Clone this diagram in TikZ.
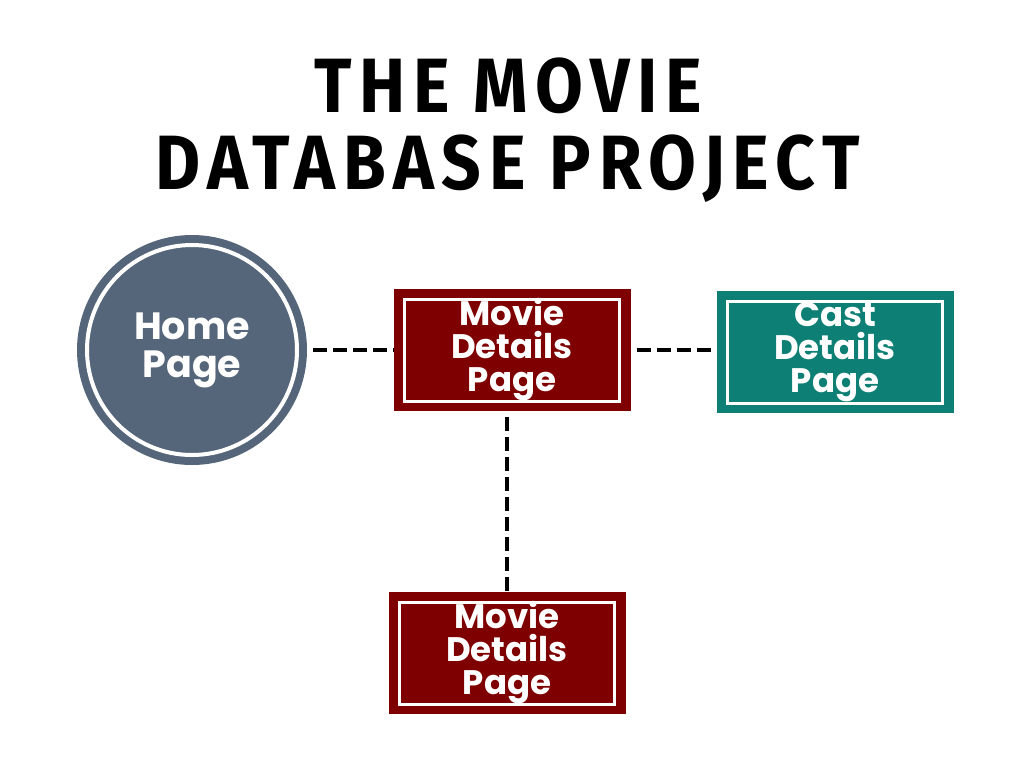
\documentclass[tikz,border=0pt]{standalone}
\usepackage{fontspec}
\setmainfont{Poppins}
\newfontfamily\titlefont[FakeStretch=0.9,LetterSpace=10]{Fira Sans Bold}
\usetikzlibrary{positioning}

\definecolor{slate}{HTML}{56667A}
\definecolor{maroon}{HTML}{7F0000}
\definecolor{teal}{HTML}{0E7F74}

\tikzset{
  pagebox/.style={draw=#1, fill=#1, line width=1pt, minimum width=236pt, minimum height=121pt,
    inner sep=0pt, align=center, text=white, font=\bfseries\fontsize{34}{33}\selectfont},
  homecircle/.style={circle, fill=slate, minimum size=230pt, inner sep=0pt, align=center,
    text=white, font=\bfseries\fontsize{38}{38}\selectfont},
  link/.style={line width=4pt, dash pattern=on 14pt off 6pt, dash phase=-6pt},
}

\begin{document}
\begin{tikzpicture}[x=1pt,y=-1pt]
  \useasboundingbox (0,0) rectangle (1024,768);

  % title
  \node [font=\titlefont\fontsize{77}{77}\selectfont, align=center] (title) at (508,130) {THE MOVIE\\DATABASE PROJECT};

  % pages
  \node [homecircle] (home) at (192,350) {Home\\Page};
  \draw [white, line width=4pt] (home.center) circle (105pt);

  \node [pagebox=maroon] (movie) at (512,350) {Movie\\Details\\Page};
  \draw [white, line width=3pt] ([shift={(11pt,-10pt)}]movie.north west) rectangle ([shift={(-11pt,10pt)}]movie.south east);

  \node [pagebox=teal] (cast) at (835,352) {Cast\\Details\\Page};
  \draw [white, line width=3pt] ([shift={(11pt,-10pt)}]cast.north west) rectangle ([shift={(-11pt,10pt)}]cast.south east);

  \node [pagebox=maroon] (movie2) at (507,653) {Movie\\Details\\Page};
  \draw [white, line width=3pt] ([shift={(11pt,-10pt)}]movie2.north west) rectangle ([shift={(-11pt,10pt)}]movie2.south east);

  % links
  \draw [link] (home.east) -- (movie.west);
  \draw [link] (movie.east) -- (cast.west |- movie.east);
  \draw [link] (movie.south -| movie2.north) -- (movie2.north);
\end{tikzpicture}
\end{document}
